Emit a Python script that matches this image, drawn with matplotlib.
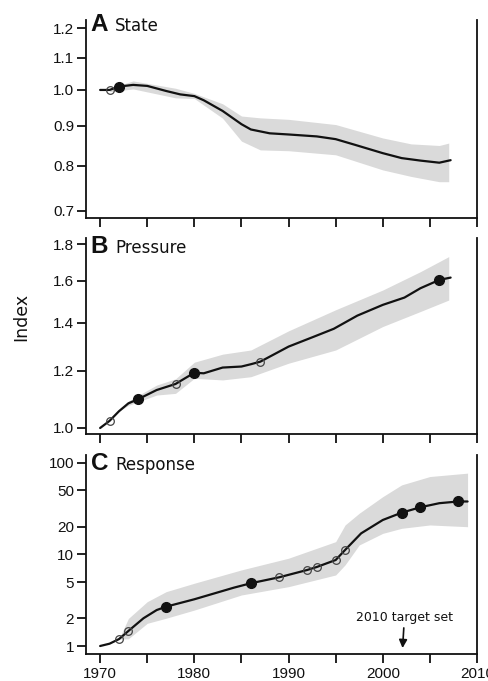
import matplotlib
matplotlib.use("Agg")
import matplotlib.pyplot as plt
from matplotlib.ticker import FixedLocator, FixedFormatter, NullLocator

# ---------------- data ----------------
# Panel A: State
state_years = [1970, 1971, 1972, 1973.5, 1975, 1977, 1978.5, 1980, 1981, 1983, 1985, 1986,
               1988, 1990, 1993, 1995, 1997, 2000, 2002, 2004, 2006, 2007.2]
state_vals = [1.0, 1.0, 1.01, 1.015, 1.012, 0.997, 0.987, 0.982, 0.97, 0.94, 0.904, 0.89,
              0.88, 0.877, 0.872, 0.865, 0.851, 0.83, 0.818, 0.812, 0.807, 0.813]
state_band_years = [1971, 1973.5, 1978, 1980, 1983, 1985, 1987, 1990, 1995, 2000, 2003, 2006, 2007]
state_band_hi = [1.005, 1.027, 1.005, 0.99, 0.96, 0.926, 0.921, 0.917, 0.903, 0.868, 0.853, 0.849, 0.855]
state_band_lo = [0.995, 1.003, 0.977, 0.975, 0.92, 0.86, 0.838, 0.836, 0.826, 0.79, 0.775, 0.763, 0.763]
state_open = ([1971], [1.0])
state_filled = ([1972], [1.01])

# Panel B: Pressure
press_years = [1970, 1971, 1972, 1973, 1974, 1976, 1978, 1979, 1980, 1981, 1983, 1985, 1986,
               1987, 1990, 1992.7, 1994.8, 1997.3, 2000, 2002.3, 2004, 2006, 2007.2]
press_vals = [1.0, 1.023, 1.055, 1.082, 1.096, 1.129, 1.151, 1.172, 1.193, 1.191, 1.213, 1.217,
              1.226, 1.236, 1.297, 1.339, 1.373, 1.432, 1.482, 1.517, 1.563, 1.605, 1.617]
press_band_years = [1972, 1973, 1976, 1978, 1980, 1983, 1986, 1990, 1995, 2000, 2004, 2007]
press_band_hi = [1.055, 1.09, 1.147, 1.17, 1.234, 1.266, 1.283, 1.364, 1.459, 1.554, 1.648, 1.729]
press_band_lo = [1.055, 1.075, 1.111, 1.117, 1.172, 1.166, 1.178, 1.23, 1.283, 1.383, 1.451, 1.505]
press_open = ([1971, 1978, 1987], [1.023, 1.151, 1.236])
press_filled = ([1974, 1980, 2006], [1.096, 1.193, 1.605])

# Panel C: Response
resp_years = [1970, 1971, 1972, 1973, 1974.6, 1976, 1977, 1980, 1984.2, 1986, 1989, 1992, 1993,
              1995, 1996, 1997.7, 2000, 2002, 2004, 2006, 2008, 2009]
resp_vals = [1.0, 1.06, 1.19, 1.46, 2.01, 2.47, 2.69, 3.24, 4.34, 4.85, 5.63, 6.78, 7.3,
             8.7, 11.2, 17.0, 23.8, 28.6, 32.8, 36.3, 37.9, 37.9]
resp_band_years = [1972, 1973, 1975, 1977, 1980, 1985, 1990, 1995, 1996, 1997.5, 2000, 2002, 2005, 2009]
resp_band_hi = [1.19, 2.0, 3.05, 3.92, 4.85, 6.78, 9.1, 13.8, 21, 28.2, 42.8, 57.5, 71, 77.3]
resp_band_lo = [1.19, 1.2, 1.77, 2.01, 2.47, 3.61, 4.45, 5.97, 7.7, 12.7, 17.0, 19.3, 21, 20.1]
resp_open = ([1972, 1973, 1989, 1992, 1993, 1995, 1996], [1.19, 1.46, 5.63, 6.78, 7.3, 8.7, 11.2])
resp_filled = ([1977, 1986, 2002, 2004, 2008], [2.69, 4.85, 28.6, 32.8, 37.9])

x_ticks = [1970, 1975, 1980, 1985, 1990, 1995, 2000, 2005, 2010]
x_labels = ["1970", "", "1980", "", "1990", "", "2000", "", "2010"]
a_ticks = [0.7, 0.8, 0.9, 1.0, 1.1, 1.2]
a_labels = ["0.7", "0.8", "0.9", "1.0", "1.1", "1.2"]
b_ticks = [1.0, 1.2, 1.4, 1.6, 1.8]
b_labels = ["1.0", "1.2", "1.4", "1.6", "1.8"]
c_ticks = [1, 2, 5, 10, 20, 50, 100]
c_labels = ["1", "2", "5", "10", "20", "50", "100"]

# ---------------- figure ----------------
W, H = 488, 681
fig = plt.figure(figsize=(W / 100, H / 100), dpi=100)
fig.patch.set_facecolor("white")

def px_axes(top, bottom, left=86, right=477):
    return fig.add_axes([left / W, 1 - bottom / H, (right - left) / W, (bottom - top) / H])

axA = px_axes(20, 218)
axB = px_axes(238, 434)
axC = px_axes(455, 654)

band_color = "#dadada"

panels = [
    (axA, state_years, state_vals, state_band_years, state_band_hi, state_band_lo,
     state_open, state_filled, (0.6856, 1.229), a_ticks, a_labels, "A", "State", 0.944),
    (axB, press_years, press_vals, press_band_years, press_band_hi, press_band_lo,
     press_open, press_filled, (0.981, 1.835), b_ticks, b_labels, "B", "Pressure", 0.923),
    (axC, resp_years, resp_vals, resp_band_years, resp_band_hi, resp_band_lo,
     resp_open, resp_filled, (0.818, 122), c_ticks, c_labels, "C", "Response", 0.925),
]

for i, (ax, xs, ys, bx, bhi, blo, opn, fil, ylim, yt, yl, letter, name, ty) in enumerate(panels):
    ax.set_yscale("log")
    ax.fill_between(bx, blo, bhi, color=band_color, lw=0, zorder=1)
    ax.plot(xs, ys, color="#111111", lw=1.6, zorder=3, solid_capstyle="round",
            solid_joinstyle="round")
    ax.plot(opn[0], opn[1], ls="none", marker="o", ms=5.5, mfc="none",
            mec="#444444", mew=0.9, zorder=4)
    ax.plot(fil[0], fil[1], ls="none", marker="o", ms=7, mfc="#111111",
            mec="#111111", zorder=5)
    ax.set_xlim(1968.5, 2010)
    ax.set_ylim(*ylim)
    ax.yaxis.set_major_locator(FixedLocator(yt))
    ax.yaxis.set_major_formatter(FixedFormatter(yl))
    ax.yaxis.set_minor_locator(NullLocator())
    ax.xaxis.set_major_locator(FixedLocator(x_ticks))
    ax.xaxis.set_minor_locator(NullLocator())
    if i == 2:
        ax.set_xticklabels(x_labels)
    else:
        ax.set_xticklabels([""] * len(x_ticks))
    for lab in ax.get_xticklabels() + ax.get_yticklabels():
        lab.set_fontfamily("Liberation Sans")
        lab.set_fontsize(11)
        lab.set_color("#111111")
    ax.spines["top"].set_visible(False)
    for s in ["left", "bottom", "right"]:
        ax.spines[s].set_linewidth(1.3)
        ax.spines[s].set_color("#111111")
    ax.tick_params(axis="both", which="major", direction="out", length=6.5, width=1.3,
                   color="#111111", pad=2)
    ax.tick_params(axis="x", pad=2.5)
    ax.set_facecolor("white")
    ax.text(0.012, ty, letter, transform=ax.transAxes, ha="left", va="baseline",
            fontfamily="Liberation Sans", fontweight="bold", fontsize=17.5, color="#111111",
            clip_on=False)
    ax.text(0.074, ty, name, transform=ax.transAxes, ha="left", va="baseline",
            fontfamily="DejaVu Sans", fontsize=12, color="#111111")

axC.annotate("2010 target set", xy=(2002.1, 0.95), xytext=(2002.3, 1.75),
             ha="center", va="bottom", fontfamily="DejaVu Sans", fontsize=9,
             color="#111111",
             arrowprops=dict(arrowstyle="-|>", color="#111111", lw=1.2,
                             mutation_scale=12, shrinkA=1, shrinkB=0))

fig.text(21 / W, 1 - 317 / H, "Index", rotation=90, ha="center", va="center",
         fontfamily="DejaVu Sans", fontsize=12.5, color="#111111")

fig.savefig("out.png", dpi=100, facecolor="white")
